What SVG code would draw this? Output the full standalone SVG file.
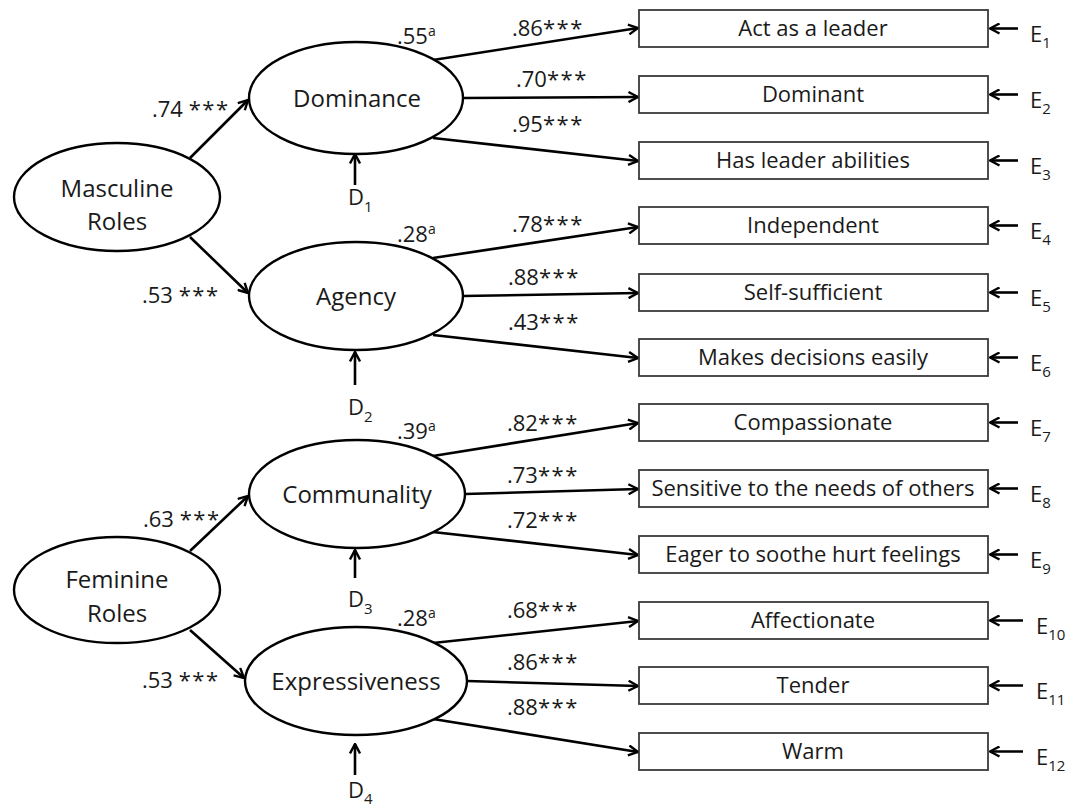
<svg xmlns="http://www.w3.org/2000/svg" width="1073" height="809" viewBox="0 0 1073 809">
<style>
text{font-family:"Open Sans","DejaVu Sans",sans-serif;fill:#1a1a1a}
.lv{font-size:24px;text-anchor:middle}
.bx{font-size:22px;text-anchor:middle}
.nm{font-size:22px}
.st{letter-spacing:1.5px}
.sup{font-size:14px}
.lb{font-size:22px}
.sub{font-size:15px}
ellipse{fill:#fff;stroke:#000;stroke-width:2.4}
rect{fill:#fff;stroke:#3a3a3a;stroke-width:1.8}
.cn line{stroke:#000;stroke-width:2.6;marker-end:url(#ah)}
</style>
<defs>
<marker id="ah" viewBox="0 0 12 12" refX="11" refY="6" markerWidth="12" markerHeight="12" markerUnits="userSpaceOnUse" orient="auto">
<path d="M1.5,1 L11,6 L1.5,11" fill="none" stroke="#000" stroke-width="2.4"/>
</marker>
</defs>
<rect x="0" y="0" width="1073" height="809" style="fill:#fff;stroke:none"/>

<g class="cn" id="connectors">
<line x1="190" y1="158" x2="248" y2="100"/>
<line x1="190" y1="237" x2="248" y2="293"/>
<line x1="190" y1="551" x2="248" y2="496"/>
<line x1="190" y1="630" x2="244" y2="678"/>
<line x1="433" y1="60" x2="638" y2="28"/>
<line x1="463" y1="98" x2="638" y2="97"/>
<line x1="433" y1="138" x2="638" y2="161"/>
<line x1="433" y1="258" x2="638" y2="227"/>
<line x1="463" y1="296" x2="638" y2="293"/>
<line x1="433" y1="335" x2="638" y2="358"/>
<line x1="433" y1="456" x2="638" y2="423"/>
<line x1="465" y1="494" x2="638" y2="489"/>
<line x1="433" y1="532" x2="638" y2="555"/>
<line x1="433" y1="643" x2="638" y2="621"/>
<line x1="467" y1="681" x2="638" y2="686"/>
<line x1="433" y1="719" x2="638" y2="752"/>
<line x1="355" y1="185" x2="355" y2="154"/>
<line x1="355" y1="385" x2="355" y2="352"/>
<line x1="355" y1="578" x2="355" y2="550"/>
<line x1="355" y1="775" x2="355" y2="744"/>
<line x1="1018" y1="28.5" x2="990" y2="28.5"/>
<line x1="1018" y1="94.5" x2="990" y2="94.5"/>
<line x1="1018" y1="160.5" x2="990" y2="160.5"/>
<line x1="1018" y1="225.5" x2="990" y2="225.5"/>
<line x1="1018" y1="292.5" x2="990" y2="292.5"/>
<line x1="1018" y1="357.5" x2="990" y2="357.5"/>
<line x1="1018" y1="422.5" x2="990" y2="422.5"/>
<line x1="1018" y1="488.5" x2="990" y2="488.5"/>
<line x1="1018" y1="554.5" x2="990" y2="554.5"/>
<line x1="1023" y1="620.5" x2="990" y2="620.5"/>
<line x1="1023" y1="685.5" x2="990" y2="685.5"/>
<line x1="1023" y1="751.5" x2="990" y2="751.5"/>
</g>

<g id="labels">
<text class="nm" x="152" y="117">.74 <tspan class="st">***</tspan></text>
<text class="nm" x="142" y="303">.53 <tspan class="st">***</tspan></text>
<text class="nm" x="143" y="527">.63 <tspan class="st">***</tspan></text>
<text class="nm" x="142" y="688">.53 <tspan class="st">***</tspan></text>

<text class="nm" x="397" y="44">.55<tspan class="sup" dy="-8">a</tspan></text>
<text class="nm" x="512" y="36">.86<tspan class="st">***</tspan></text>
<text class="nm" x="516" y="87">.70<tspan class="st">***</tspan></text>
<text class="nm" x="512" y="132">.95<tspan class="st">***</tspan></text>

<text class="nm" x="397" y="242">.28<tspan class="sup" dy="-8">a</tspan></text>
<text class="nm" x="512" y="232">.78<tspan class="st">***</tspan></text>
<text class="nm" x="508" y="285">.88<tspan class="st">***</tspan></text>
<text class="nm" x="508" y="330">.43<tspan class="st">***</tspan></text>

<text class="nm" x="397" y="439">.39<tspan class="sup" dy="-8">a</tspan></text>
<text class="nm" x="507" y="431">.82<tspan class="st">***</tspan></text>
<text class="nm" x="507" y="483">.73<tspan class="st">***</tspan></text>
<text class="nm" x="507" y="528">.72<tspan class="st">***</tspan></text>

<text class="nm" x="397" y="626">.28<tspan class="sup" dy="-8">a</tspan></text>
<text class="nm" x="507" y="618">.68<tspan class="st">***</tspan></text>
<text class="nm" x="507" y="670">.86<tspan class="st">***</tspan></text>
<text class="nm" x="507" y="715">.88<tspan class="st">***</tspan></text>
</g>

<g id="masculine"><ellipse cx="117" cy="197" rx="103" ry="54"/><text class="lv" x="117" y="197">Masculine</text><text class="lv" x="117" y="230">Roles</text></g>
<g id="feminine"><ellipse cx="117" cy="590" rx="103" ry="53"/><text class="lv" x="117" y="588">Feminine</text><text class="lv" x="117" y="622">Roles</text></g>
<g id="dominance"><ellipse cx="356" cy="98" rx="107" ry="56"/><text class="lv" x="357" y="107">Dominance</text></g>
<g id="agency"><ellipse cx="356" cy="296" rx="107" ry="54"/><text class="lv" x="356" y="305">Agency</text></g>
<g id="communality"><ellipse cx="357" cy="494" rx="108" ry="54"/><text class="lv" x="357" y="503">Communality</text></g>
<g id="expressiveness"><ellipse cx="356" cy="681" rx="111" ry="54"/><text class="lv" x="356" y="690">Expressiveness</text></g>

<g id="d1"><text class="lb" x="348" y="205">D<tspan class="sub" dy="7">1</tspan></text></g>
<g id="d2"><text class="lb" x="348" y="415">D<tspan class="sub" dy="7">2</tspan></text></g>
<g id="d3"><text class="lb" x="348" y="607">D<tspan class="sub" dy="7">3</tspan></text></g>
<g id="d4"><text class="lb" x="348" y="798">D<tspan class="sub" dy="6">4</tspan></text></g>

<g id="box1"><rect x="639" y="10" width="349" height="37"/><text class="bx" x="813" y="36">Act as a leader</text></g>
<g id="box2"><rect x="639" y="76" width="349" height="37"/><text class="bx" x="813" y="102">Dominant</text></g>
<g id="box3"><rect x="639" y="142" width="349" height="37"/><text class="bx" x="813" y="168">Has leader abilities</text></g>
<g id="box4"><rect x="639" y="207" width="349" height="37"/><text class="bx" x="813" y="233">Independent</text></g>
<g id="box5"><rect x="639" y="274" width="349" height="37"/><text class="bx" x="813" y="300">Self-sufficient</text></g>
<g id="box6"><rect x="639" y="339" width="349" height="37"/><text class="bx" x="813" y="365">Makes decisions easily</text></g>
<g id="box7"><rect x="639" y="404" width="349" height="37"/><text class="bx" x="813" y="430">Compassionate</text></g>
<g id="box8"><rect x="639" y="470" width="349" height="37"/><text class="bx" x="813" y="496">Sensitive to the needs of others</text></g>
<g id="box9"><rect x="639" y="536" width="349" height="37"/><text class="bx" x="813" y="562">Eager to soothe hurt feelings</text></g>
<g id="box10"><rect x="639" y="602" width="349" height="37"/><text class="bx" x="813" y="628">Affectionate</text></g>
<g id="box11"><rect x="639" y="667" width="349" height="37"/><text class="bx" x="813" y="693">Tender</text></g>
<g id="box12"><rect x="639" y="733" width="349" height="37"/><text class="bx" x="813" y="759">Warm</text></g>

<g id="e1"><text class="lb" x="1030" y="42">E<tspan class="sub" dy="6">1</tspan></text></g>
<g id="e2"><text class="lb" x="1030" y="108">E<tspan class="sub" dy="6">2</tspan></text></g>
<g id="e3"><text class="lb" x="1030" y="174">E<tspan class="sub" dy="6">3</tspan></text></g>
<g id="e4"><text class="lb" x="1030" y="239">E<tspan class="sub" dy="6">4</tspan></text></g>
<g id="e5"><text class="lb" x="1030" y="306">E<tspan class="sub" dy="6">5</tspan></text></g>
<g id="e6"><text class="lb" x="1030" y="371">E<tspan class="sub" dy="6">6</tspan></text></g>
<g id="e7"><text class="lb" x="1030" y="436">E<tspan class="sub" dy="6">7</tspan></text></g>
<g id="e8"><text class="lb" x="1030" y="502">E<tspan class="sub" dy="6">8</tspan></text></g>
<g id="e9"><text class="lb" x="1030" y="568">E<tspan class="sub" dy="6">9</tspan></text></g>
<g id="e10"><text class="lb" x="1036" y="634">E<tspan class="sub" dy="6">10</tspan></text></g>
<g id="e11"><text class="lb" x="1036" y="699">E<tspan class="sub" dy="6">11</tspan></text></g>
<g id="e12"><text class="lb" x="1036" y="765">E<tspan class="sub" dy="6">12</tspan></text></g>
</svg>
